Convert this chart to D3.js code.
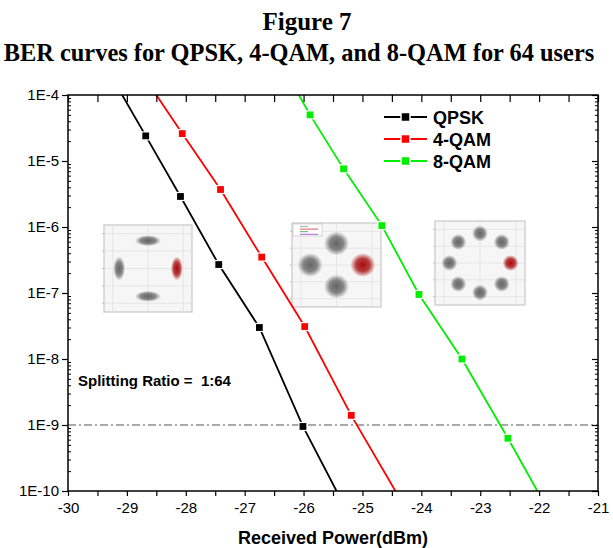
<!DOCTYPE html>
<html><head><meta charset="utf-8">
<script src="https://cdn.jsdelivr.net/npm/d3@7"></script>
<style>body{margin:0;background:#fff}svg{display:block}</style>
</head><body>
<svg id="c" width="613" height="548"></svg>
<script>
// ---------- data ----------
const seriesNames = ["QPSK", "4-QAM", "8-QAM"];
const qpskX = [-28.68, -28.09, -27.44, -26.75, -26.01];
const qpskY = [2.4e-5, 2.9e-6, 2.7e-7, 3.0e-8, 9.5e-10];
const qamX4 = [-28.06, -27.41, -26.71, -25.98, -25.19];
const qamY4 = [2.6e-5, 3.7e-6, 3.5e-7, 3.1e-8, 1.4e-9];
const qamX8 = [-25.89, -25.32, -24.67, -24.04, -23.31, -22.53];
const qamY8 = [5.0e-5, 7.6e-6, 1.05e-6, 9.5e-8, 1.0e-8, 6.3e-10];
// where each curve leaves the frame (top, bottom)
const qpskEnds = [[-29.08, 1e-4], [-25.44, 1e-10]];
const qam4Ends = [[-28.50, 1e-4], [-24.44, 1e-10]];
const qam8Ends = [[-26.08, 1e-4], [-22.03, 1e-10]];
const yTickLabels = ["1E-10", "1E-9", "1E-8", "1E-7", "1E-6", "1E-5", "1E-4"];
const yTickValues = [1e-10, 1e-9, 1e-8, 1e-7, 1e-6, 1e-5, 1e-4];
const thresholdBER = 1e-9;
// constellation insets (normalised I/Q)
const constQPSK = [[0, 1], [-1, 0], [1, 0], [0, -1]];
const const4QAM = [[0, 1], [-1, 0], [1, 0], [0, -1]];
const const8QAM = [[0, 1], [0.71, 0.71], [1, 0], [0.71, -0.71], [0, -1], [-0.71, -0.71], [-1, 0], [-0.71, 0.71]];

// ---------- layout ----------
const svg = d3.select("#c");
const L = 68, R = 598, T = 95, B = 491;
const x = d3.scaleLinear().domain([-30, -21]).range([L, R]);
const y = d3.scaleLog().domain([1e-10, 1e-4]).range([B, T]);
const colors = ["#000000", "#ff0000", "#00ee00"];
const AF = "Liberation Sans, Arial, sans-serif";
const SF = "Liberation Serif, Times New Roman, serif";

// title
svg.append("text").attr("x", 307).attr("y", 30).attr("text-anchor", "middle")
  .attr("font-family", SF).attr("font-weight", "bold").attr("font-size", 25).text("Figure 7");
svg.append("text").attr("x", 299).attr("y", 61).attr("text-anchor", "middle")
  .attr("font-family", SF).attr("font-weight", "bold").attr("font-size", 24.4)
  .text("BER curves for QPSK, 4-QAM, and 8-QAM for 64 users");

const defs = svg.append("defs");
defs.append("clipPath").attr("id", "clip")
  .append("rect").attr("x", L).attr("y", T).attr("width", R - L).attr("height", B - T);
function grad(id, c) {
  const g = defs.append("radialGradient").attr("id", id);
  g.append("stop").attr("offset", "0%").attr("stop-color", c).attr("stop-opacity", 0.95);
  g.append("stop").attr("offset", "55%").attr("stop-color", c).attr("stop-opacity", 0.75);
  g.append("stop").attr("offset", "100%").attr("stop-color", c).attr("stop-opacity", 0);
}
grad("gGray", "#5e5e5e");
grad("gRed", "#a30000");

// ---------- insets ----------
function inset(box, pts, sizes, hi, withLegend) {
  const g = svg.append("g");
  const [x0, y0, x1, y1] = box;
  g.append("rect").attr("x", x0).attr("y", y0).attr("width", x1 - x0).attr("height", y1 - y0)
    .attr("fill", "#f6f6f6").attr("stroke", "#c8c8c8").attr("stroke-width", 1.2);
  const ix = d3.scaleLinear().domain([-1.25, 1.25]).range([x0, x1]);
  const iy = d3.scaleLinear().domain([-1.25, 1.25]).range([y1, y0]);
  [-1, 0, 1].forEach(v => g.append("line").attr("x1", ix(v)).attr("x2", ix(v))
    .attr("y1", y0).attr("y2", y1).attr("stroke", "#e0e0e0").attr("stroke-width", 0.7));
  [-1, -0.5, 0, 0.5, 1].forEach(v => g.append("line").attr("y1", iy(v)).attr("y2", iy(v))
    .attr("x1", x0).attr("x2", x1).attr("stroke", "#e0e0e0").attr("stroke-width", 0.7));
  [-1, -0.5, 0, 0.5, 1].forEach(v => g.append("line").attr("y1", iy(v)).attr("y2", iy(v))
    .attr("x1", x0 - 2).attr("x2", x0).attr("stroke", "#aaa").attr("stroke-width", 0.7));
  if (withLegend) {
    g.append("rect").attr("x", x0 + 1).attr("y", y0 + 1).attr("width", 29).attr("height", 12)
      .attr("fill", "#fff").attr("stroke", "#bbb").attr("stroke-width", 0.6);
    ["#999", "#c33", "#393", "#93c"].forEach((c, i) => g.append("line")
      .attr("x1", x0 + 8).attr("x2", x0 + 8 + [8, 18, 8, 18][i]).attr("y1", y0 + 3.5 + i * 2.6)
      .attr("y2", y0 + 3.5 + i * 2.6).attr("stroke", c).attr("stroke-width", 0.8));
  }
  pts.forEach((p, i) => {
    const s = sizes(p);
    g.append("ellipse").attr("cx", ix(p[0])).attr("cy", iy(p[1]))
      .attr("rx", s[0]).attr("ry", s[1])
      .attr("fill", i === hi ? "url(#gRed)" : "url(#gGray)");
  });
}
inset([104, 225, 192, 312], constQPSK.map(p => [p[0] * 0.82, p[1] * 0.8]),
  p => Math.abs(p[0]) > 0.5 ? [6, 12] : [13, 5.5], 2, false);
inset([292, 223, 381, 307], const4QAM.map(p => [p[0] * 0.74, p[1] * 0.64]),
  () => [12.5, 12], 2, true);
inset([435, 221, 525, 305], const8QAM.map(p => [p[0] * 0.85, p[1] * 0.88]),
  () => [8, 8], 2, false);

// ---------- threshold line ----------
svg.append("line").attr("x1", L).attr("x2", R).attr("y1", y(thresholdBER)).attr("y2", y(thresholdBER))
  .attr("stroke", "#555").attr("stroke-width", 1).attr("stroke-dasharray", "8,3,2,3");

// ---------- curves ----------
const series = [
  { xs: qpskX, ys: qpskY, ends: qpskEnds },
  { xs: qamX4, ys: qamY4, ends: qam4Ends },
  { xs: qamX8, ys: qamY8, ends: qam8Ends }
];
const lineGen = d3.line().x(d => x(d[0])).y(d => y(d[1]));
const plot = svg.append("g").attr("clip-path", "url(#clip)");
series.forEach((s, i) => {
  const pts = s.xs.map((v, k) => [v, s.ys[k]]);
  const all = [s.ends[0], ...pts, s.ends[1]];
  plot.append("path").attr("d", lineGen(all)).attr("fill", "none")
    .attr("stroke", colors[i]).attr("stroke-width", 1.8);
  plot.selectAll(null).data(pts).enter().append("rect")
    .attr("x", d => x(d[0]) - 4).attr("y", d => y(d[1]) - 4)
    .attr("width", 8).attr("height", 8).attr("fill", colors[i])
    .attr("stroke", "#fff").attr("stroke-width", 1.2);
});

// ---------- axes ----------
const halfTicks = d3.range(-30, -20.99, 0.5);
const axB = d3.axisBottom(x).tickValues(halfTicks).tickSize(5)
  .tickFormat(d => Number.isInteger(d) ? String(d) : "");
const gb = svg.append("g").attr("transform", `translate(0,${B})`).call(axB);
gb.select(".domain").remove();
gb.selectAll("text").attr("font-family", AF).attr("font-size", 15).attr("fill", "#000").attr("dy", "0.9em");
gb.selectAll("line").attr("stroke", "#000").attr("stroke-width", 1.2);

const axT = d3.axisTop(x).tickValues(halfTicks).tickSize(-7).tickFormat("");
const gt = svg.append("g").attr("transform", `translate(0,${T})`).call(axT);
gt.select(".domain").remove();
gt.selectAll("line").attr("stroke", "#000").attr("stroke-width", 1.2);

const minorY = [];
for (let e = -10; e < -4; e++) for (let m = 2; m <= 9; m++) minorY.push(m * Math.pow(10, e));
const axL = d3.axisLeft(y).tickValues(yTickValues).tickSize(6)
  .tickFormat((d, i) => yTickLabels[i]);
const gl = svg.append("g").attr("transform", `translate(${L},0)`).call(axL);
gl.select(".domain").remove();
gl.selectAll("text").attr("font-family", AF).attr("font-size", 15).attr("fill", "#000");
gl.selectAll("line").attr("stroke", "#000").attr("stroke-width", 1.2);
const glm = svg.append("g").attr("transform", `translate(${L},0)`)
  .call(d3.axisLeft(y).tickValues(minorY).tickSize(-3).tickFormat(""));
glm.select(".domain").remove();
glm.selectAll("line").attr("stroke", "#000");

const gr = svg.append("g").attr("transform", `translate(${R},0)`)
  .call(d3.axisRight(y).tickValues(yTickValues).tickSize(-6).tickFormat(""));
gr.select(".domain").remove();
gr.selectAll("line").attr("stroke", "#000").attr("stroke-width", 1.2);
const grm = svg.append("g").attr("transform", `translate(${R},0)`)
  .call(d3.axisRight(y).tickValues(minorY).tickSize(-3).tickFormat(""));
grm.select(".domain").remove();
grm.selectAll("line").attr("stroke", "#000");

svg.append("rect").attr("x", L).attr("y", T).attr("width", R - L).attr("height", B - T)
  .attr("fill", "none").attr("stroke", "#000").attr("stroke-width", 1.5);

svg.append("text").attr("x", (L + R) / 2).attr("y", 544).attr("text-anchor", "middle")
  .attr("font-family", AF).attr("font-weight", "bold").attr("font-size", 18)
  .text("Received Power(dBm)");

// annotation
svg.append("text").attr("x", 78).attr("y", 386).attr("font-family", AF)
  .attr("font-weight", "bold").attr("font-size", 15).attr("xml:space", "preserve")
  .text("Splitting Ratio =  1:64");

// ---------- legend ----------
const lg = svg.append("g");
seriesNames.forEach((n, i) => {
  const cy = 117 + i * 22;
  lg.append("line").attr("x1", 384).attr("x2", 427).attr("y1", cy).attr("y2", cy)
    .attr("stroke", colors[i]).attr("stroke-width", 1.8);
  lg.append("rect").attr("x", 401).attr("y", cy - 4.5).attr("width", 9).attr("height", 9)
    .attr("fill", colors[i]).attr("stroke", "#fff").attr("stroke-width", 1.5);
  lg.append("text").attr("x", 433).attr("y", cy + 6.5).attr("font-family", AF)
    .attr("font-weight", "bold").attr("font-size", 18).text(n);
});
</script>
</body></html>
